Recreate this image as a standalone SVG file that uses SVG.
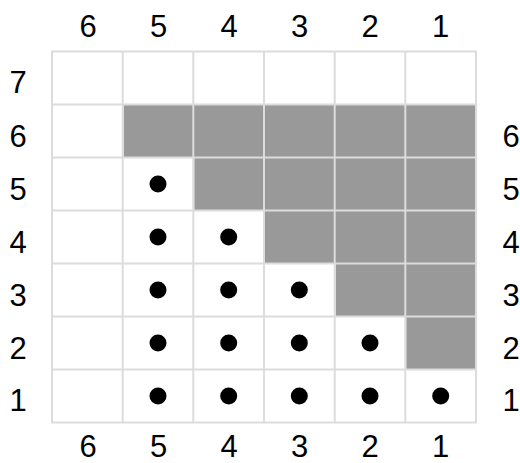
<svg xmlns="http://www.w3.org/2000/svg" width="520" height="463" viewBox="0 0 520 463">
<style>
.g{fill:#999999}
.grid{stroke:#dcdcdc;stroke-width:2;fill:none}
.d{fill:#000}
text{font-family:"Liberation Sans",Arial,sans-serif;font-size:31px;fill:#000;text-anchor:middle}
</style>
<rect width="520" height="463" fill="#fff"/>
<g id="shaded">
<rect class="g" x="123.7" y="104.5" width="352.3" height="53"/>
<rect class="g" x="194.3" y="157.5" width="281.7" height="53"/>
<rect class="g" x="265" y="210.5" width="211" height="53"/>
<rect class="g" x="335.7" y="263.5" width="140.3" height="53"/>
<rect class="g" x="406.3" y="316.5" width="69.7" height="53"/>
</g>
<g id="grid" class="grid">
<rect x="52" y="51.5" width="424" height="371"/>
<path d="M122.7 51.5V422.5M193.3 51.5V422.5M264 51.5V422.5M334.7 51.5V422.5M405.3 51.5V422.5M52 104.5H476M52 157.5H476M52 210.5H476M52 263.5H476M52 316.5H476M52 369.5H476"/>
</g>
<g id="dots">
<circle class="d" cx="158" cy="184" r="8.5"/>
<circle class="d" cx="158" cy="237" r="8.5"/>
<circle class="d" cx="228.7" cy="237" r="8.5"/>
<circle class="d" cx="158" cy="290" r="8.5"/>
<circle class="d" cx="228.7" cy="290" r="8.5"/>
<circle class="d" cx="299.3" cy="290" r="8.5"/>
<circle class="d" cx="158" cy="343" r="8.5"/>
<circle class="d" cx="228.7" cy="343" r="8.5"/>
<circle class="d" cx="299.3" cy="343" r="8.5"/>
<circle class="d" cx="370" cy="343" r="8.5"/>
<circle class="d" cx="158" cy="396" r="8.5"/>
<circle class="d" cx="228.7" cy="396" r="8.5"/>
<circle class="d" cx="299.3" cy="396" r="8.5"/>
<circle class="d" cx="370" cy="396" r="8.5"/>
<circle class="d" cx="440.7" cy="396" r="8.5"/>
</g>
<g id="top-labels">
<text x="88" y="37">6</text><text x="158.5" y="37">5</text><text x="229" y="37">4</text><text x="299.5" y="37">3</text><text x="370" y="37">2</text><text x="440.5" y="37">1</text>
</g>
<g id="bottom-labels">
<text x="88" y="457">6</text><text x="158.5" y="457">5</text><text x="229" y="457">4</text><text x="299.5" y="457">3</text><text x="370" y="457">2</text><text x="440.5" y="457">1</text>
</g>
<g id="left-labels">
<text x="18" y="93">7</text><text x="18" y="147">6</text><text x="18" y="200">5</text><text x="18" y="253">4</text><text x="18" y="306">3</text><text x="18" y="359">2</text><text x="18" y="411">1</text>
</g>
<g id="right-labels">
<text x="511" y="147">6</text><text x="511" y="200">5</text><text x="511" y="253">4</text><text x="511" y="306">3</text><text x="511" y="359">2</text><text x="511" y="411">1</text>
</g>
</svg>
